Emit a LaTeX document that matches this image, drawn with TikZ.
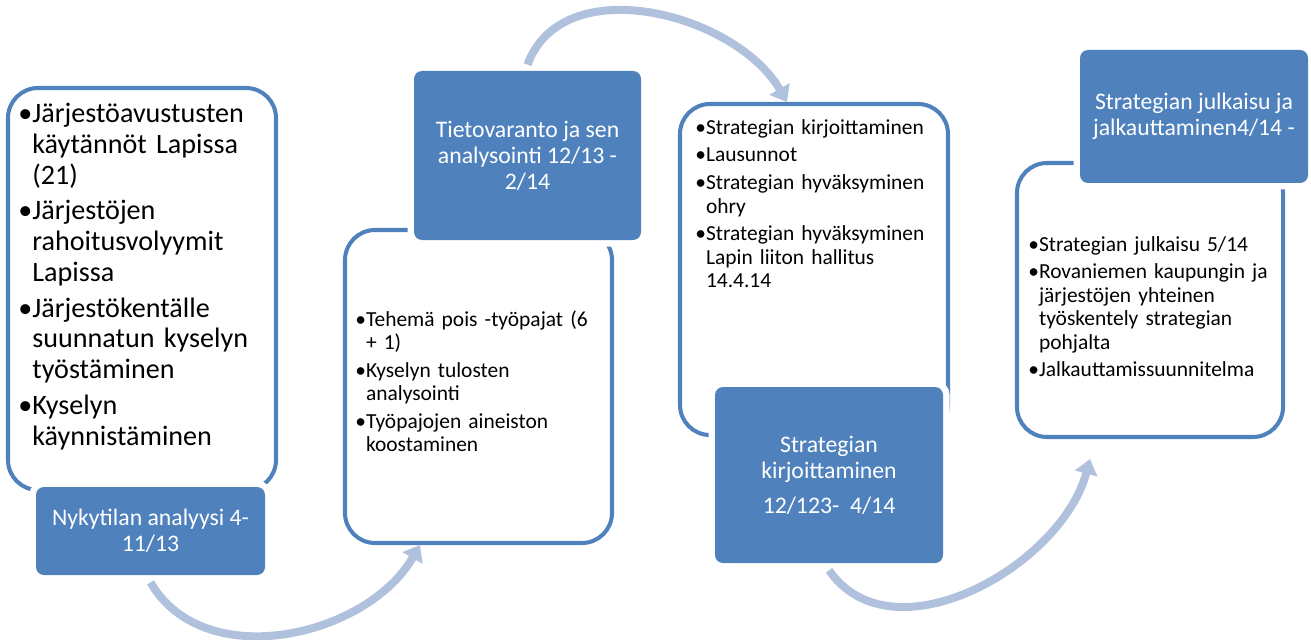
\documentclass[tikz,border=0pt]{standalone}
\usepackage{fontspec}
\setmainfont{Carlito}
\usetikzlibrary{positioning,arrows.meta}
\definecolor{officeblue}{HTML}{4F81BD}
\definecolor{arrowblue}{HTML}{B0C1DD}
\newcommand{\blt}[1]{\hangindent=0.5em\hangafter=1\noindent\makebox[0.5em][l]{•}#1\par}

\begin{document}
\begin{tikzpicture}[whitebox/.style={draw=officeblue, line width=2.3pt, fill=white, rounded corners=0.6cm, inner sep=0pt},
    bluebox/.style={fill=officeblue, rounded corners=0.16cm, text=white, align=center, inner sep=0pt,
        font=\fontsize{13.5}{14.8}\selectfont, preaction={draw=white, line width=0.26cm}},
    listtext/.style={inner sep=0pt, align=left, text width=5cm, font=\fontsize{12.2}{13.3}\selectfont,
        execute at begin node={\setlength{\parskip}{2.5pt}}},
    bigarrow/.style={draw=arrowblue, line width=0.16cm, -{Triangle[width=0.45cm,length=0.3cm]}},]
    \useasboundingbox (0,0) rectangle (26.22,12.78);
    % white boxes
    \node[whitebox, minimum width=5.36cm, minimum height=8.04cm] (w1) at (2.84,7.0)   {};
    \node[whitebox, minimum width=5.34cm, minimum height=6.26cm] (w2) at (9.57,5.05)  {};
    \node[whitebox, minimum width=5.36cm, minimum height=6.62cm] (w3) at (16.28,7.39) {};
    \node[whitebox, minimum width=5.32cm, minimum height=5.48cm] (w4) at (23.0,6.78)  {};
    % lists
    \node[listtext, font=\fontsize{16}{17.6}\selectfont] (t1) [below right=0.34cm and 0.24cm of w1.north west]
        {\blt{Järjestöavustusten\newline käytännöt Lapissa\newline (21)}
         \blt{Järjestöjen\newline rahoitusvolyymit\newline Lapissa}
         \blt{Järjestökentälle\newline suunnatun kyselyn\newline työstäminen}
         \blt{Kyselyn\newline käynnistäminen}};
    \node[listtext] (t2) [below right=1.64cm and 0.24cm of w2.north west]
        {\blt{Tehemä pois -työpajat (6\newline + 1)}
         \blt{Kyselyn tulosten\newline analysointi}
         \blt{Työpajojen aineiston\newline koostaminen}};
    \node[listtext] (t3) [below right=0.34cm and 0.34cm of w3.north west]
        {\blt{Strategian kirjoittaminen}
         \blt{Lausunnot}
         \blt{Strategian hyväksyminen\newline ohry}
         \blt{Strategian hyväksyminen\newline Lapin liiton hallitus\newline 14.4.14}};
    \node[listtext] (t4) [below right=1.5cm and 0.26cm of w4.north west]
        {\blt{Strategian julkaisu 5/14}
         \blt{Rovaniemen kaupungin ja\newline järjestöjen yhteinen\newline työskentely strategian\newline pohjalta}
         \blt{Jalkauttamissuunnitelma}};
    % blue boxes
    \node[bluebox, minimum width=4.58cm, minimum height=1.76cm] (b1) at (3.01,2.16)   {Nykytilan analyysi 4-\\11/13};
    \node[bluebox, minimum width=4.54cm, minimum height=3.38cm] (b2) at (10.55,9.67)  {Tietovaranto ja sen\\analysointi 12/13 -\\2/14};
    \node[bluebox, minimum width=4.56cm, minimum height=3.52cm] (b3) at (16.58,3.28)  {Strategian\\kirjoittaminen\\[5pt]12/123-~~4/14};
    \node[bluebox, minimum width=4.56cm, minimum height=2.66cm] (b4) at (23.88,10.45) {Strategian julkaisu ja\\jalkauttaminen4/14 -};
    % arrows
    \draw[bigarrow] ([yshift=-0.14cm]b1.south) to[out=-60,in=-120] ([xshift=-1.17cm]w2.south);
    \draw[bigarrow] ([yshift=0.12cm]b2.north) to[out=70,in=120] ([xshift=-0.54cm]w3.north);
    \draw[bigarrow] ([yshift=-0.14cm]b3.south) to[out=-55,in=-105] ([xshift=-1.2cm,yshift=-0.4cm]w4.south);
\end{tikzpicture}
\end{document}
